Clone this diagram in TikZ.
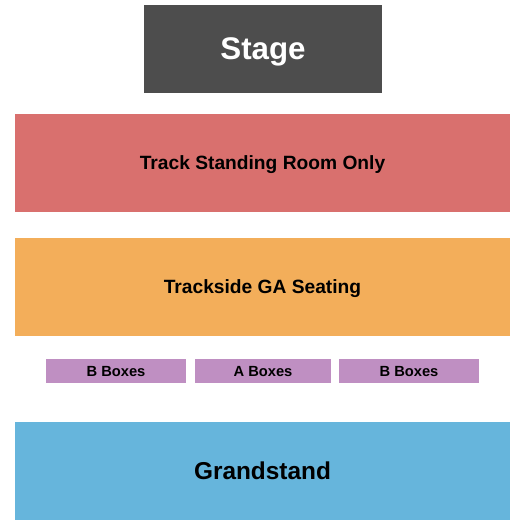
\documentclass[tikz,border=0pt]{standalone}
\usepackage{fontspec}
\setmainfont{Liberation Sans}
\definecolor{stagegray}{HTML}{4D4D4D}
\definecolor{trackred}{HTML}{D9706E}
\definecolor{gaorange}{HTML}{F3AE5A}
\definecolor{boxpurple}{HTML}{BF8FC2}
\definecolor{standblue}{HTML}{66B5DC}
\tikzset{
  section/.style={inner sep=0pt, text depth=0pt, font=\bfseries},
  bigsection/.style={section, minimum width=495pt, minimum height=98pt},
  boxsection/.style={section, fill=boxpurple, minimum height=24pt, font=\bfseries\fontsize{14.7}{14.7}\selectfont}
}
\begin{document}
\begin{tikzpicture}[x=1pt,y=-1pt]
    \useasboundingbox (0,0) rectangle (525,525);
    \node[section, fill=stagegray, text=white, minimum width=238pt, minimum height=88pt,
      font=\bfseries\fontsize{31.3}{31.3}\selectfont] (stage) at (263,49) {Stage};
    \node[bigsection, fill=trackred, font=\bfseries\fontsize{19.2}{19.2}\selectfont] (track) at (262.5,162.5) {Track Standing Room Only};
    \node[bigsection, fill=gaorange, font=\bfseries\fontsize{19.2}{19.2}\selectfont] (ga) at (262.5,287) {Trackside GA Seating};
    \node[boxsection, minimum width=140pt] (bleft) at (116,371) {B Boxes};
    \node[boxsection, minimum width=136pt] (abox) at (263,371) {A Boxes};
    \node[boxsection, minimum width=140pt] (bright) at (409,371) {B Boxes};
    \node[bigsection, fill=standblue, font=\bfseries\fontsize{24.4}{24.4}\selectfont] (grand) at (262.5,471) {Grandstand};
  \end{tikzpicture}
\end{document}
